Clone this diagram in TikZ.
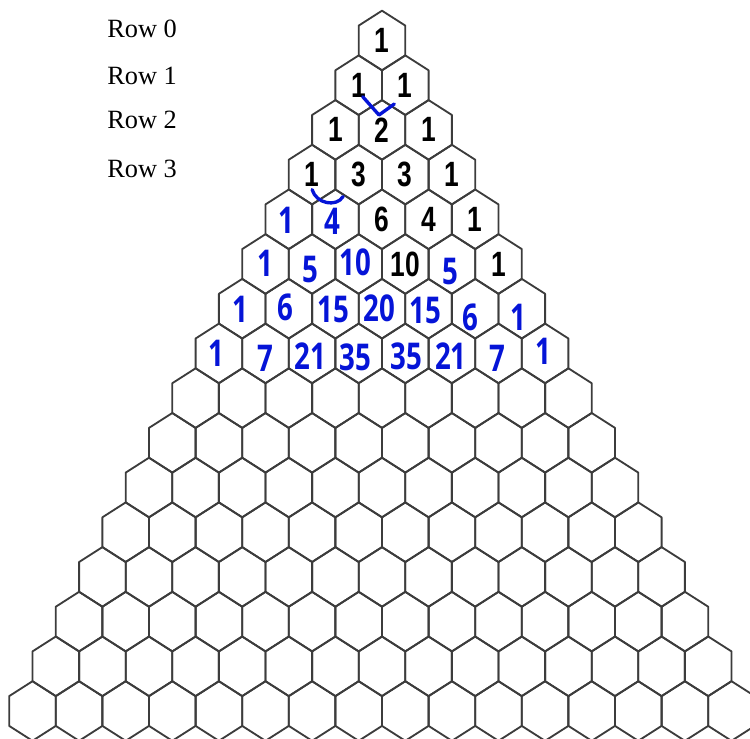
\documentclass[tikz,border=0pt]{standalone}
\usepackage{fontspec}
\setmainfont{Liberation Serif}
\newfontfamily\printfont{Liberation Sans}
\newfontfamily\handfont{Open Sans}
\usetikzlibrary{positioning}
\definecolor{penblue}{RGB}{5,20,215}
\definecolor{hexline}{RGB}{60,60,60}

\begin{document}
\begin{tikzpicture}[x=0.02cm, y=-0.02cm,
  hexcell/.style={draw=hexline, line width=1.05pt, line join=round},
  printed/.style={font=\printfont\bfseries\fontsize{20}{20}\selectfont, xscale=0.75, inner sep=0pt},
  handnum/.style={font=\handfont\bfseries\fontsize{21}{21}\selectfont, xscale=0.75, text=penblue, inner sep=0pt},
  rowlbl/.style={font=\fontsize{15}{15}\selectfont, anchor=west, inner sep=0pt},
  penmark/.style={draw=penblue, line width=1.9pt, line cap=round, line join=round}]
\useasboundingbox (0,0) rectangle (750,738);
\clip (0,0) rectangle (750,738);
% Hexagon cells, rows 0 to 15
\foreach \r in {0,...,15} {
  \foreach \k in {0,...,\r} {
    \coordinate (h-\r-\k) at ({382+(\k-\r/2)*46.6}, {40.5+\r*44.7});
    \draw[hexcell] (h-\r-\k) ++(0,-29.8) -- ++(23.3,14.9) -- ++(0,29.8) -- ++(-23.3,14.9)
      -- ++(-23.3,-14.9) -- ++(0,-29.8) -- cycle;
  }
}
% Printed entries
\foreach \r/\k/\v in {0/0/1, 1/0/1, 1/1/1, 2/0/1, 2/1/2, 2/2/1, 3/0/1, 3/1/3, 3/2/3, 3/3/1,
                     4/2/6, 4/3/4, 4/4/1, 5/3/10, 5/5/1} {
  \node[printed] (p-\r-\k) at (h-\r-\k) {\v};
}
% Handwritten entries (row/cell/value/dx/dy)
\foreach \r/\k/\v/\dx/\dy in {4/0/1/-2/1, 4/1/4/-3/2,
    5/0/1/0/-1, 5/1/5/-2/6, 5/2/10/-3/-2, 5/4/5/-2/8,
    6/0/1/-2/1, 6/1/6/-3/-1, 6/2/15/-2/1, 6/3/20/-3/0, 6/4/15/-3/2, 6/5/6/-5/9, 6/6/1/-3/9,
    7/0/1/-3/0, 7/1/7/0/5, 7/2/21/-2/3, 7/3/35/-3/4, 7/4/35/1/3, 7/5/21/-1/3, 7/6/7/-1/5, 7/7/1/-2/-2} {
  \node[handnum] (b-\r-\k) at ([shift={(\dx,\dy)}]h-\r-\k) {\v};
}
% Row labels
\foreach \r/\y in {0/28.5, 1/75.5, 2/120, 3/169} {
  \node[rowlbl] (row\r) at (107,\y) {Row \r};
}
% Pen marks
\draw[penmark] ([shift={(4,11.5)}]h-1-0) -- ([shift={(20.3,29.8)}]h-1-0) -- ([shift={(35.6,18.8)}]h-1-0);
\draw[penmark] ([shift={(0,15)}]h-3-0) .. controls ([shift={(4,29)}]h-3-0) and ([shift={(24,33)}]h-3-0) .. ([shift={(31,22)}]h-3-0);
\end{tikzpicture}
\end{document}
